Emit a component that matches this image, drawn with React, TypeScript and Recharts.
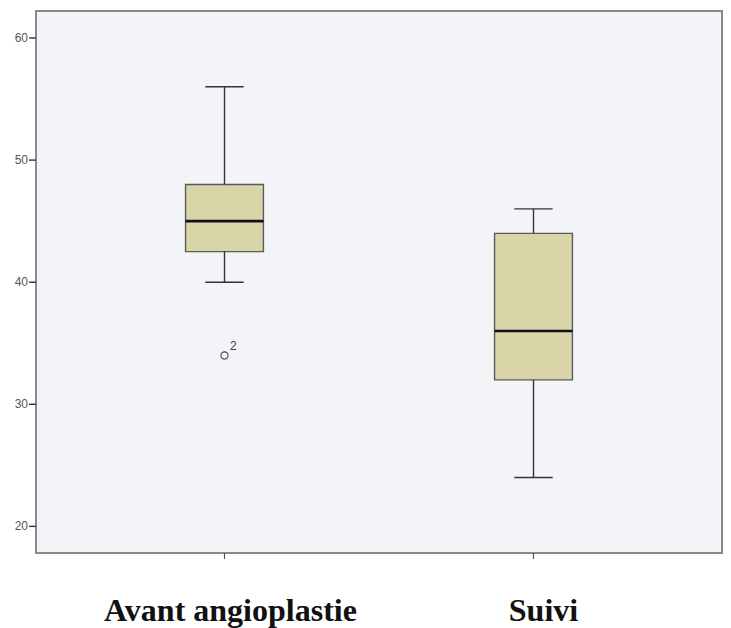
import React from "react";
import {
  ComposedChart,
  XAxis,
  YAxis,
  ReferenceArea,
  ReferenceLine,
  Scatter,
  LabelList,
} from "recharts";

// Categories and box statistics
const categories = ["Avant angioplastie", "Suivi"];
const positions = [1, 2];
const mins = [40, 24];
const q1s = [42.5, 32];
const medians = [45, 36];
const q3s = [48, 44];
const maxs = [56, 46];
const outliers = [{ x: 1, y: 34, label: "2" }];
const yTicks = [20, 30, 40, 50, 60];

const Y_DOMAIN: [number, number] = [17.82, 62.21];
const X_DOMAIN: [number, number] = [0.39, 2.61];
const BOX_HALF = 0.126;
const CAP_HALF = 0.062;

const FRAME = "#8a8a8a";
const BOX_FILL = "#d9d5a9";
const BOX_STROKE = "#5a5a5a";
const BG = "#f2f4f7";

const XTick = (props: any) => {
  const { x, y, payload } = props;
  const idx = positions.indexOf(payload.value);
  return (
    <g>
      <line x1={x} y1={y - 8} x2={x} y2={y - 2} stroke="#555" strokeWidth={1.2} />
      <text
        x={x + (idx === 0 ? 6 : 10)}
        y={y + 60}
        textAnchor="middle"
        fontFamily="Liberation Serif, Times New Roman, serif"
        fontWeight="bold"
        fontSize={32}
        fill="#111"
      >
        {categories[idx]}
      </text>
    </g>
  );
};

const YTick = (props: any) => {
  const { x, y, payload } = props;
  return (
    <text
      x={x}
      y={y + 4}
      textAnchor="end"
      fontSize={12}
      fill="#555"
      fontFamily="Liberation Sans, Arial, sans-serif"
    >
      {payload.value}
    </text>
  );
};

const OutlierDot = (props: any) => {
  const { cx, cy } = props;
  return <circle cx={cx} cy={cy} r={3.6} fill="none" stroke="#444" strokeWidth={1.1} />;
};

export default function App() {
  const scatterData = outliers.map((o) => ({ x: o.x, y: o.y, label: o.label }));
  return (
    <div style={{ position: "absolute", left: 0, top: 0, background: "#fff" }}>
      <ComposedChart
        width={731}
        height={628}
        margin={{ top: 11, right: 9, left: 0, bottom: 0 }}
      >
        <XAxis
          type="number"
          dataKey="x"
          domain={X_DOMAIN}
          ticks={positions}
          allowDataOverflow
          height={75}
          axisLine={false}
          tickLine={false}
          tick={<XTick />}
          interval={0}
        />
        <YAxis
          type="number"
          dataKey="y"
          domain={Y_DOMAIN}
          ticks={yTicks}
          allowDataOverflow
          width={36}
          axisLine={false}
          tickLine={{ stroke: "#333", strokeWidth: 1.4 }}
          tickSize={7}
          tickMargin={1}
          tick={<YTick />}
        />
        <ReferenceArea
          x1={X_DOMAIN[0]}
          x2={X_DOMAIN[1]}
          y1={Y_DOMAIN[0]}
          y2={Y_DOMAIN[1]}
          fill={BG}
          fillOpacity={1}
          stroke={FRAME}
          strokeWidth={2}
          ifOverflow="visible"
        />
        {positions.map((p, i) => (
          <ReferenceLine
            key={`wl-${i}`}
            segment={[{ x: p, y: mins[i] }, { x: p, y: q1s[i] }]}
            stroke="#333"
            strokeWidth={1.4}
          />
        ))}
        {positions.map((p, i) => (
          <ReferenceLine
            key={`wu-${i}`}
            segment={[{ x: p, y: q3s[i] }, { x: p, y: maxs[i] }]}
            stroke="#333"
            strokeWidth={1.4}
          />
        ))}
        {positions.map((p, i) => (
          <ReferenceLine
            key={`cmin-${i}`}
            segment={[{ x: p - CAP_HALF, y: mins[i] }, { x: p + CAP_HALF, y: mins[i] }]}
            stroke="#333"
            strokeWidth={1.4}
          />
        ))}
        {positions.map((p, i) => (
          <ReferenceLine
            key={`cmax-${i}`}
            segment={[{ x: p - CAP_HALF, y: maxs[i] }, { x: p + CAP_HALF, y: maxs[i] }]}
            stroke="#333"
            strokeWidth={1.4}
          />
        ))}
        {positions.map((p, i) => (
          <ReferenceArea
            key={`box-${i}`}
            x1={p - BOX_HALF}
            x2={p + BOX_HALF}
            y1={q1s[i]}
            y2={q3s[i]}
            fill={BOX_FILL}
            fillOpacity={1}
            stroke={BOX_STROKE}
            strokeWidth={1.4}
          />
        ))}
        {positions.map((p, i) => (
          <ReferenceLine
            key={`med-${i}`}
            segment={[{ x: p - BOX_HALF, y: medians[i] }, { x: p + BOX_HALF, y: medians[i] }]}
            stroke="#111"
            strokeWidth={2.6}
          />
        ))}
        <Scatter
          data={scatterData}
          dataKey="y"
          shape={<OutlierDot />}
          isAnimationActive={false}
        >
          <LabelList
            dataKey="label"
            content={(props: any) => (
              <text
                x={props.x + 10}
                y={props.y - 1}
                fontSize={12}
                fill="#444"
                fontFamily="Liberation Sans, Arial, sans-serif"
              >
                {props.value}
              </text>
            )}
          />
        </Scatter>
      </ComposedChart>
    </div>
  );
}
